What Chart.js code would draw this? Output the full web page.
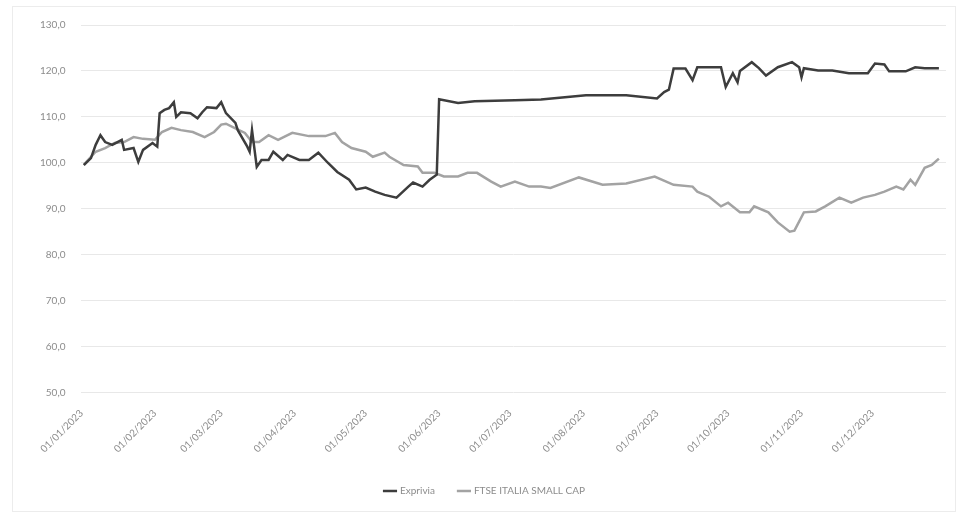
<!DOCTYPE html>
<html>
<head>
<meta charset="utf-8">
<script src="https://cdn.jsdelivr.net/npm/chart.js@4"></script>
<style>
    body { margin: 0; background: #fff; }
    #wrap { position: relative; width: 962px; height: 514px; }
    #frame { position: absolute; left: 12px; top: 6px; width: 942px; height: 504px; border: 1px solid #ececec; pointer-events: none; }
</style>
</head>
<body>
<div id="wrap">
    <canvas id="perfChart" width="962" height="514"></canvas>
    <div id="frame"></div>
</div>
<script>
// month ticks on the x axis
const monthLabels = ['01/01/2023', '01/02/2023', '01/03/2023', '01/04/2023', '01/05/2023', '01/06/2023',
    '01/07/2023', '01/08/2023', '01/09/2023', '01/10/2023', '01/11/2023', '01/12/2023'];

// Exprivia (mm-dd, value)
const expDates = ['01-02', '01-05', '01-07', '01-09', '01-11', '01-14', '01-18', '01-19', '01-23', '01-25',
    '01-27', '01-31', '02-02', '02-03', '02-05', '02-07', '02-09', '02-10', '02-12', '02-16',
    '02-19', '02-21', '02-23', '02-27', '03-01', '03-03', '03-07', '03-08', '03-12', '03-13',
    '03-14', '03-16', '03-18', '03-21', '03-23', '03-27', '03-29', '04-03', '04-07', '04-11',
    '04-15', '04-19', '04-24', '04-27', '05-01', '05-05', '05-09', '05-14', '05-19', '05-21',
    '05-25', '05-28', '05-31', '06-01', '06-09', '06-16', '07-03', '07-14', '08-02', '08-19',
    '09-01', '09-04', '09-06', '09-08', '09-13', '09-16', '09-18', '09-28', '09-30', '10-03',
    '10-05', '10-06', '10-11', '10-14', '10-17', '10-22', '10-28', '10-31', '11-01', '11-02',
    '11-08', '11-14', '11-21', '11-29', '12-02', '12-06', '12-08', '12-15', '12-19', '12-23', '12-29'];
const expValues = [99.5, 101, 103.9, 106, 104.5, 103.9, 105, 102.8, 103.2, 100.2,
    102.8, 104.3, 103.5, 110.8, 111.5, 111.9, 113.2, 110, 111, 110.8,
    109.7, 111, 112.1, 111.9, 113.2, 110.8, 108.7, 107.1, 103.5, 102.4,
    107.1, 99.1, 100.6, 100.6, 102.4, 100.6, 101.7, 100.6, 100.6, 102.2,
    100, 98, 96.3, 94.2, 94.6, 93.7, 93, 92.4, 94.8, 95.7,
    94.8, 96.3, 97.4, 113.8, 113, 113.4, 113.6, 113.8, 114.7, 114.7,
    114, 115.4, 115.9, 120.5, 120.5, 118, 120.8, 120.8, 116.5, 119.5,
    117.5, 120, 121.9, 120.6, 119, 120.8, 121.9, 120.8, 118.6, 120.6,
    120.1, 120.1, 119.5, 119.5, 121.6, 121.4, 119.9, 119.9, 120.8, 120.6, 120.6];

// FTSE Italia Small Cap (mm-dd, value)
const ftseDates = ['01-02', '01-07', '01-11', '01-15', '01-19', '01-23', '01-27', '02-01', '02-04', '02-08',
    '02-12', '02-17', '02-22', '02-26', '03-01', '03-03', '03-07', '03-11', '03-14', '03-17',
    '03-21', '03-25', '03-31', '04-07', '04-14', '04-18', '04-21', '04-25', '05-01', '05-04',
    '05-09', '05-11', '05-17', '05-23', '05-25', '05-30', '06-03', '06-09', '06-13', '06-17',
    '06-23', '06-27', '07-03', '07-09', '07-14', '07-18', '07-30', '08-09', '08-19', '08-31',
    '09-08', '09-16', '09-18', '09-23', '09-28', '10-01', '10-06', '10-10', '10-12', '10-18',
    '10-22', '10-27', '10-29', '11-02', '11-07', '11-11', '11-17', '11-22', '11-27', '12-02',
    '12-06', '12-11', '12-14', '12-17', '12-19', '12-23', '12-26', '12-29'];
const ftseValues = [99.6, 102.4, 103.2, 104.3, 104.5, 105.6, 105.2, 105, 106.7, 107.6,
    107.1, 106.7, 105.6, 106.7, 108.3, 108.5, 107.5, 106.5, 104.5, 104.5,
    106, 105, 106.5, 105.8, 105.8, 106.5, 104.5, 103.2, 102.4, 101.3,
    102.2, 101.3, 99.5, 99.2, 97.8, 97.8, 97, 97, 97.8, 97.8,
    95.9, 94.8, 95.9, 94.8, 94.8, 94.5, 96.8, 95.2, 95.5, 97,
    95.2, 94.8, 93.7, 92.6, 90.5, 91.3, 89.2, 89.2, 90.5, 89.2,
    87, 85, 85.2, 89.2, 89.4, 90.5, 92.4, 91.3, 92.4, 93,
    93.7, 94.8, 94.2, 96.3, 95.2, 98.9, 99.5, 100.9];

const dayMs = 86400000;
function dayOfYear(m, d) {
    return (Date.UTC(2023, m - 1, d) - Date.UTC(2023, 0, 1)) / dayMs;
}
function toPoints(dates, values) {
    return dates.map(function (s, i) {
        const p = s.split('-');
        return { x: dayOfYear(+p[0], +p[1]), y: values[i] };
    });
}
const monthDays = monthLabels.map(function (s) {
    const p = s.split('/');
    return dayOfYear(+p[1], +p[0]);
});

const textColor = '#8c8c8c';
const ctx = document.getElementById('perfChart');
new Chart(ctx, {
    type: 'line',
    data: {
        datasets: [{
            label: 'Exprivia',
            data: toPoints(expDates, expValues),
            borderColor: '#3d3d3d',
            backgroundColor: '#3d3d3d',
            borderWidth: 2.5,
            pointRadius: 0,
            tension: 0
        }, {
            label: 'FTSE ITALIA SMALL CAP',
            data: toPoints(ftseDates, ftseValues),
            borderColor: '#a3a3a3',
            backgroundColor: '#a3a3a3',
            borderWidth: 2.5,
            pointRadius: 0,
            tension: 0
        }]
    },
    options: {
        responsive: false,
        animation: false,
        layout: { padding: { left: 24, right: 16, top: 25, bottom: 8 } },
        plugins: {
            tooltip: { enabled: false },
            legend: {
                position: 'bottom',
                labels: {
                    usePointStyle: true,
                    pointStyle: 'line',
                    boxWidth: 34,
                    padding: 24,
                    color: textColor,
                    font: { family: 'Lato', size: 10 }
                }
            }
        },
        scales: {
            x: {
                type: 'linear',
                min: 0,
                max: 365,
                grid: { display: false },
                border: { display: false },
                afterBuildTicks: function (scale) {
                    scale.ticks = monthDays.map(function (v) { return { value: v }; });
                },
                ticks: {
                    autoSkip: false,
                    maxRotation: 45,
                    minRotation: 45,
                    padding: 7,
                    color: textColor,
                    font: { family: 'Lato', size: 10 },
                    callback: function (value, index) { return monthLabels[index]; }
                }
            },
            y: {
                min: 50,
                max: 130,
                grid: { color: '#e8e8e8', drawTicks: false },
                border: { display: false },
                ticks: {
                    stepSize: 10,
                    padding: 16,
                    color: textColor,
                    font: { family: 'Lato', size: 10 },
                    callback: function (v) { return v.toFixed(1).replace('.', ','); }
                }
            }
        }
    }
});
</script>
</body>
</html>
